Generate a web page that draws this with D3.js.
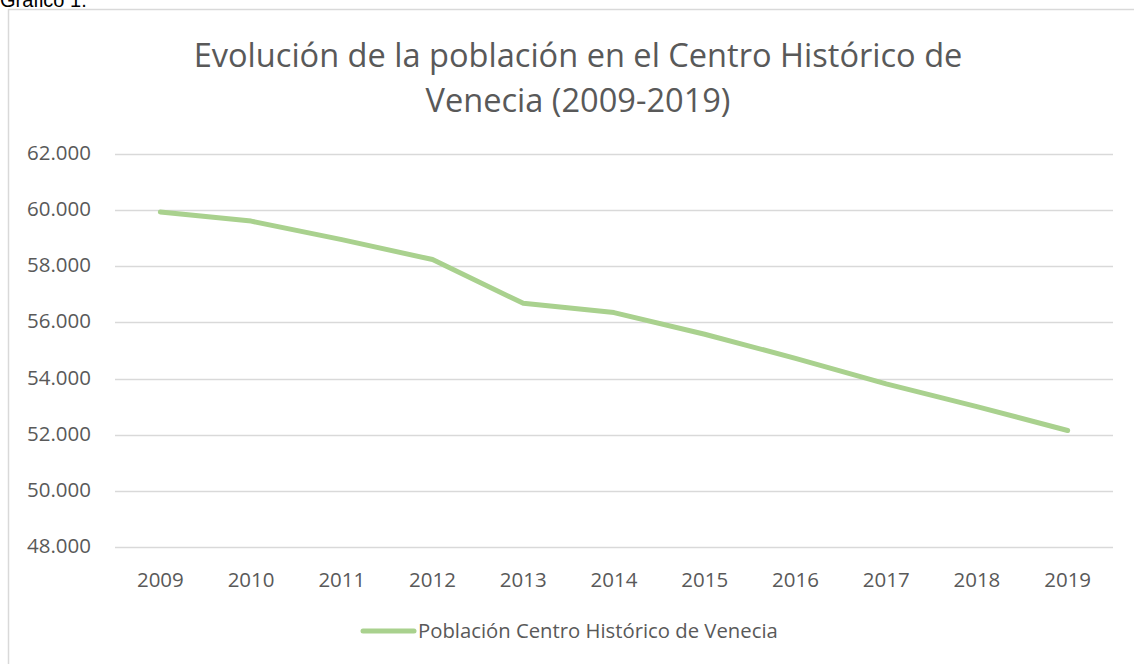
<!DOCTYPE html>
<html><head><meta charset="utf-8">
<script src="https://cdn.jsdelivr.net/npm/d3@7"></script>
<style>body{margin:0;background:#fff}svg{display:block}</style>
</head><body>
<svg id="c" width="1134" height="664"></svg>
<script>
const years = ["2009","2010","2011","2012","2013","2014","2015","2016","2017","2018","2019"];
const population = [59930, 59610, 58950, 58240, 56680, 56350, 55580, 54720, 53810, 53000, 52150];
const yTicks = [48000, 50000, 52000, 54000, 56000, 58000, 60000, 62000];
const titleLines = ["Evolución de la población en el Centro Histórico de", "Venecia (2009-2019)"];
const seriesName = "Población Centro Histórico de Venecia";
const caption = "Gráfico 1.";

const FONT = "'Open Sans', sans-serif";
const svg = d3.select("#c");
function fit(sel, target){
  const n = sel.node(); let fs = parseFloat(sel.attr("font-size"));
  const w = n.getComputedTextLength(); sel.attr("font-size", fs*target/w);
}

svg.append("text").attr("x",0).attr("y",7).attr("font-family","Arial, 'Liberation Sans'").attr("font-size",20).attr("fill","#000").text(caption);
svg.append("rect").attr("x",8.5).attr("y",9.5).attr("width",1140).attr("height",670).attr("fill","#fff").attr("stroke","#d9d9d9").attr("stroke-width",1.5);

const x = d3.scaleBand().domain(years).range([115,1113]);
const y = d3.scaleLinear().domain([48000,62000]).range([547,154]);

const t1 = svg.append("text").attr("x",578).attr("y",67).attr("text-anchor","middle").attr("font-family",FONT).attr("font-size",28).attr("fill","#595959").text(titleLines[0]);
fit(t1, 769);
const fs = parseFloat(t1.attr("font-size"));
svg.append("text").attr("x",578).attr("y",112).attr("text-anchor","middle").attr("font-family",FONT).attr("font-size",fs).attr("fill","#595959").text(titleLines[1]);

const fmt = d => d3.format(",")(d).replace(/,/g,".");
const grid = svg.append("g");
grid.selectAll("line").data(yTicks).join("line")
  .attr("x1",115).attr("x2",1113).attr("y1",d=>Math.round(y(d))+0.5).attr("y2",d=>Math.round(y(d))+0.5)
  .attr("stroke","#d9d9d9").attr("stroke-width",1.3);

const yl = svg.append("g").selectAll("text").data(yTicks).join("text")
  .attr("x",91).attr("y",d=>y(d)+6).attr("text-anchor","end").attr("font-family",FONT).attr("font-size",16).attr("fill","#595959").text(fmt);
// fit tick font to Calibri width (~64px for "62.000")
const probe = yl.filter((d,i)=>i===7);
const w0 = probe.node().getComputedTextLength();
const tfs = 16*64/w0;
yl.attr("font-size",tfs);

svg.append("g").selectAll("text").data(years).join("text")
  .attr("x",d=>x(d)+x.bandwidth()/2).attr("y",587).attr("text-anchor","middle").attr("font-family",FONT).attr("font-size",tfs).attr("fill","#595959").text(d=>d);

const line = d3.line().x((d,i)=>x(years[i])+x.bandwidth()/2).y(d=>y(d));
svg.append("path").datum(population).attr("d",line).attr("fill","none").attr("stroke","#a9d18e").attr("stroke-width",5).attr("stroke-linecap","round").attr("stroke-linejoin","round");

svg.append("line").attr("x1",363).attr("x2",414).attr("y1",631).attr("y2",631).attr("stroke","#a9d18e").attr("stroke-width",5).attr("stroke-linecap","round");
const lg = svg.append("text").attr("x",418).attr("y",638).attr("font-family",FONT).attr("font-size",16).attr("fill","#595959").text(seriesName);
fit(lg, 360);
</script>
</body></html>
